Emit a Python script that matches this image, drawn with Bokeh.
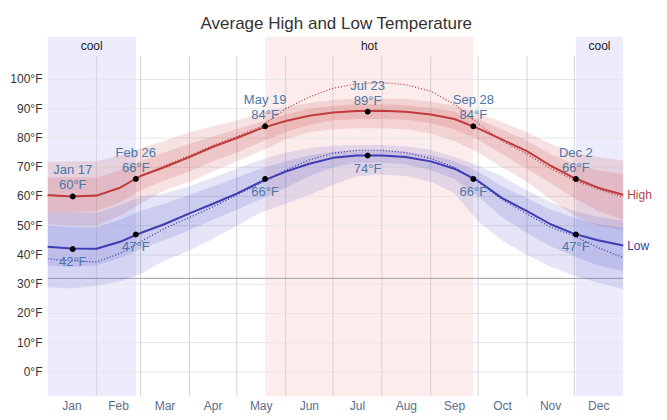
from bokeh.plotting import figure
from bokeh.models import FixedTicker, PrintfTickFormatter, Range1d
from bokeh.core.properties import value
from bokeh.embed import file_html
from bokeh.resources import INLINE

# day of year (0 = Jan 1) where values were read
days = [0, 15, 31, 46, 59, 74, 90, 105, 120, 135, 151, 166, 181, 196, 212,
        227, 243, 258, 273, 288, 304, 319, 334, 349, 365]

# average daily high / low (°F)
high_avg = [60.5, 60.0, 60.3, 63.0, 67.0, 70.0, 73.5, 77.0, 80.0, 83.2, 85.8, 87.6, 88.7, 89.2, 89.3,
            89.0, 88.0, 86.5, 83.3, 79.5, 75.5, 70.5, 66.3, 63.0, 60.6]
low_avg = [42.8, 42.2, 42.1, 44.5, 47.5, 50.5, 54.2, 57.5, 61.0, 65.0, 68.5, 71.2, 73.2, 74.0, 74.0,
           73.5, 72.0, 69.5, 65.3, 59.5, 55.0, 50.5, 47.2, 45.0, 43.2]

# perceived temperature (dotted)
high_feel = [60.3, 60.0, 60.0, 63.0, 67.0, 70.5, 74.0, 77.5, 80.5, 83.8, 90.0, 94.0, 97.0, 98.5, 99.0,
             98.2, 96.0, 91.5, 85.0, 79.0, 74.5, 69.5, 65.5, 62.5, 59.8]
low_feel = [38.7, 38.0, 37.6, 40.5, 44.5, 49.0, 52.8, 56.5, 60.5, 64.5, 69.0, 72.5, 74.8, 75.8, 75.8,
            75.0, 73.0, 70.0, 65.0, 59.0, 54.0, 49.5, 46.5, 42.5, 39.1]

# percentile bands
high_p10 = [50.5, 50.0, 50.0, 53.5, 57.5, 62.0, 65.0, 68.5, 72.0, 75.5, 79.5, 82.0, 83.0, 83.3, 83.3,
            83.0, 81.5, 79.0, 75.0, 70.0, 65.0, 59.0, 53.5, 50.0, 48.5]
high_p25 = [55.0, 54.5, 55.0, 58.0, 62.0, 65.5, 68.5, 72.0, 75.0, 78.5, 82.0, 84.5, 86.0, 86.5, 86.5,
            86.2, 85.0, 83.0, 79.5, 74.5, 69.5, 64.5, 59.5, 55.0, 52.0]
high_p75 = [66.5, 66.5, 66.5, 69.0, 72.0, 75.0, 78.0, 80.5, 83.0, 85.5, 88.0, 90.0, 91.0, 91.5, 91.5,
            91.2, 90.3, 89.0, 86.5, 83.0, 79.0, 74.5, 71.0, 69.0, 67.7]
high_p90 = [71.7, 72.0, 72.0, 74.0, 76.5, 79.0, 82.0, 84.0, 86.0, 88.5, 90.5, 92.0, 93.0, 93.5, 93.5,
            93.3, 92.5, 91.0, 88.5, 85.5, 82.0, 78.0, 75.0, 73.5, 72.3]
low_p10 = [29.0, 28.5, 29.5, 31.0, 33.5, 38.0, 41.5, 45.5, 50.0, 54.5, 57.5, 60.5, 64.0, 66.8, 67.5,
           67.0, 65.0, 61.0, 51.5, 45.0, 40.0, 36.0, 33.0, 30.5, 28.4]
low_p25 = [36.5, 36.0, 36.5, 39.0, 42.0, 45.0, 48.5, 52.0, 55.5, 59.0, 63.0, 67.0, 70.0, 71.5, 71.5,
           71.0, 69.0, 66.0, 60.0, 53.0, 47.5, 43.0, 39.5, 36.5, 34.5]
low_p75 = [50.0, 49.5, 49.5, 52.0, 55.0, 57.5, 60.5, 63.5, 66.5, 69.5, 72.0, 74.0, 75.3, 75.8, 75.8,
           75.3, 74.2, 72.0, 68.5, 63.5, 59.5, 55.5, 52.8, 50.5, 49.4]
low_p90 = [55.0, 54.5, 54.5, 57.0, 60.0, 61.0, 63.5, 66.5, 69.5, 72.5, 75.0, 76.5, 77.3, 77.6, 77.6,
           77.2, 76.0, 73.5, 70.5, 67.0, 62.0, 58.0, 55.0, 53.0, 51.7]

# annotated days
ann_days = [16, 56, 138, 203, 270, 335]
ann_dates = ["Jan 17", "Feb 26", "May 19", "Jul 23", "Sep 28", "Dec 2"]
ann_high = [60, 66, 84, 89, 84, 66]
ann_low = [42, 47, 66, 74, 66, 47]

# seasons
season_names = ["cool", "hot", "cool"]
season_start = [0, 138, 335]
season_end = [56, 270, 365]
season_colors = ["#ececfc", "#fdecec", "#ececfc"]

months = ["Jan", "Feb", "Mar", "Apr", "May", "Jun", "Jul", "Aug", "Sep", "Oct", "Nov", "Dec"]
month_starts = [0, 31, 59, 90, 120, 151, 181, 212, 243, 273, 304, 334, 365]
temp_ticks = list(range(0, 101, 10))
freezing = 32

FONT = "Liberation Sans"
YMIN, YMAX = -8.4, 114.7

p = figure(width=667, height=420, x_range=Range1d(0, 393.1), y_range=Range1d(YMIN, YMAX),
           output_backend="svg", toolbar_location=None,
           title="Average High and Low Temperature",
           min_border_left=47, min_border_right=0, min_border_top=36, min_border_bottom=24)
p.outline_line_color = None
p.xgrid.visible = False
p.ygrid.visible = False

p.title.align = "left"
p.title.offset = 153
p.title.text_font = FONT
p.title.text_font_size = "17px"
p.title.text_font_style = "normal"
p.title.text_color = "#333333"
p.title.standoff = 8

# season backgrounds
p.quad(left=season_start, right=season_end, bottom=YMIN, top=YMAX,
       fill_color=season_colors, line_color=None)
p.text(x=[(a + b) / 2 for a, b in zip(season_start, season_end)], y=111.3, text=season_names,
       text_font=value(FONT), text_font_size="12px", text_color="#222222",
       text_align="center", text_baseline="middle")

# grid lines
p.segment(x0=0, x1=365, y0=temp_ticks, y1=temp_ticks, line_color="#e6e6e6", line_width=1)
p.segment(x0=month_starts[1:-1], x1=month_starts[1:-1], y0=YMIN, y1=108,
          line_color="#d4d4d8", line_width=1)
p.segment(x0=0, x1=365, y0=freezing, y1=freezing, line_color="#a0a0a0", line_width=1)

# percentile bands
p.varea(x=days, y1=high_p10, y2=high_p90, fill_color="#c84848", fill_alpha=0.16)
p.varea(x=days, y1=high_p25, y2=high_p75, fill_color="#c84848", fill_alpha=0.17)
p.varea(x=days, y1=low_p10, y2=low_p90, fill_color="#4848c8", fill_alpha=0.14)
p.varea(x=days, y1=low_p25, y2=low_p75, fill_color="#4848c8", fill_alpha=0.16)

# lines
p.line(days, high_feel, line_color="#b83434", line_width=1.2, line_dash="1 2")
p.line(days, low_feel, line_color="#34349c", line_width=1.2, line_dash="1 2")
p.line(days, high_avg, line_color="#c03c3c", line_width=2)
p.line(days, low_avg, line_color="#3c3cb4", line_width=2)

# annotations
p.scatter(ann_days + ann_days, ann_high + ann_low, size=5, color="black")
p.text(x=ann_days, y=ann_high,
       text=[f"{d}\n{t}°F" for d, t in zip(ann_dates, ann_high)],
       text_font=value(FONT), text_font_size="13px", text_color="#4a78a8",
       text_align="center", text_baseline="bottom", y_offset=-4, text_line_height=1.0)
p.text(x=ann_days, y=ann_low, text=[f"{t}°F" for t in ann_low],
       text_font=value(FONT), text_font_size="13px", text_color="#4a78a8",
       text_align="center", text_baseline="top", y_offset=5)

# series labels at the right end
p.text(x=[days[-1]], y=[high_avg[-1]], text=["High"], x_offset=4,
       text_font=value(FONT), text_font_size="12px", text_color="#b04848",
       text_align="left", text_baseline="middle")
p.text(x=[days[-1]], y=[low_avg[-1]], text=["Low"], x_offset=4,
       text_font=value(FONT), text_font_size="12px", text_color="#3c3c9c",
       text_align="left", text_baseline="middle")

# axes
month_mid = [(a + b) / 2 for a, b in zip(month_starts[:-1], month_starts[1:])]
p.xaxis.ticker = FixedTicker(ticks=month_mid)
p.xaxis.major_label_overrides = {m: name for m, name in zip(month_mid, months)}
p.yaxis.ticker = FixedTicker(ticks=temp_ticks)
p.yaxis.formatter = PrintfTickFormatter(format="%d°F")
for ax in (p.xaxis, p.yaxis):
    ax.axis_line_color = None
    ax.major_tick_line_color = None
    ax.minor_tick_line_color = None
    ax.major_tick_out = 0
    ax.minor_tick_out = 0
    ax.major_label_text_font = FONT
    ax.major_label_text_font_size = "12px"
p.xaxis.major_label_text_color = "#5a6e8c"
p.yaxis.major_label_text_color = "#333333"
p.xaxis.major_label_standoff = 2
p.yaxis.major_label_standoff = 5

open("out.html", "w").write(file_html(p, INLINE))
